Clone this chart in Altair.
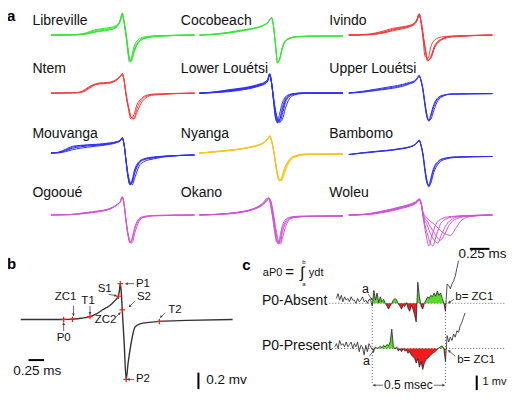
import math
import altair as alt
import pandas as pd

# ------------------------------------------------------------------ data
SITES = ["Libreville", "Cocobeach", "Ivindo",
         "Ntem", "Lower Louétsi", "Upper Louétsi",
         "Mouvanga", "Nyanga", "Bambomo",
         "Ogooué", "Okano", "Woleu"]

SITE_COLOR = {
    "Libreville": "#35e635", "Cocobeach": "#35e635",
    "Ivindo": "#f23c3c", "Ntem": "#f23c3c",
    "Lower Louétsi": "#2f2ff2", "Upper Louétsi": "#2f2ff2",
    "Mouvanga": "#2f2ff2", "Bambomo": "#2f2ff2",
    "Nyanga": "#f9c420",
    "Ogooué": "#cf52d9", "Okano": "#cf52d9", "Woleu": "#cf52d9",
}

# EOD traces: time (sample units) and amplitude (up positive)
LIBREVILLE_T = [0, 25, 35, 45, 55, 63, 68, 71, 73, 75, 77, 79, 80.5, 82, 85, 89, 95, 110, 147]
LIBREVILLE_V = [
    [0, 0.5, 2, 5.5, 7, 8.5, 11, 16, 23, 12, -2, -20, -28, -25, -12, -5, -2, -0.5, 0],
    [0, 0.5, 1.5, 4.5, 6, 7.5, 10, 15, 22, 12, -1, -18, -27, -26, -15, -7, -3, -1, 0],
    [0, 0.3, 1, 3.5, 5, 6.5, 9.5, 15, 22, 13, 0, -16, -26, -27, -17, -8, -3.5, -1, 0],
    [0, 0.2, 0.8, 3, 4.5, 6, 9, 14, 21, 13, 1, -14, -25, -27, -18, -9, -4, -1.2, 0],
]
COCOBEACH_T = [0, 15, 30, 45, 57, 65, 70, 74, 76, 78, 80, 82, 85, 90, 100, 120, 147]
COCOBEACH_V = [
    [0, 1, 3, 5.5, 7.5, 10, 13, 18, 8, -12, -29, -25, -12, -4, -1.5, -1, -1],
    [0, 0.5, 2, 4.5, 7, 9.5, 12.5, 17.5, 9, -10, -28, -26, -14, -5, -2, -1, -1],
    [0, 1, 2.5, 5, 7, 10, 13, 18, 8.5, -11, -28.5, -25, -13, -4.5, -1.5, -1, -1],
]
IVINDO_T = [0, 20, 35, 45, 55, 62, 67, 70, 72, 74, 76, 78, 81, 84, 88, 95, 105, 147]
IVINDO_V = [
    [0, 0.5, 3, 6, 8, 9.5, 12, 16, 22, 14, 0, -14, -27, -22, -11, -4, -1.5, 0],
    [0, 0.3, 2, 4.5, 6.5, 8.5, 11, 15, 21, 14, 1, -12, -26, -24, -13, -5, -2, 0],
    [0, 1, 4, 7, 8.5, 10, 12.5, 17, 22, 12, -4, -22, -24, -12, -5, -2, -1, 0],
    [0, 0.5, 2.5, 5, 7.5, 9, 11.5, 15.5, 21.5, 14, 0.5, -13, -26.5, -23, -12, -4.5, -1.5, 0],
]
NTEM_T = [0, 25, 32, 38, 44, 50, 58, 64, 68, 71, 73, 75, 77, 79, 82, 85, 88, 92, 97, 105, 147]
NTEM_V = [
    [0, 0.3, 1.5, 5, 8.5, 10, 10.5, 12, 14.5, 17, 20, 12, -3, -15, -27, -22, -12, -6, -2.5, -1, 0],
    [0, 0.3, 1, 4, 8, 9.5, 10, 11.5, 14, 17, 20.5, 13, -1, -12, -25, -26, -16, -8, -3.5, -1.5, 0],
    [0, 0.5, 2, 6, 9, 10.5, 11, 12.5, 15, 17.5, 19.5, 12, -2, -13, -24, -27, -20, -11, -5, -2, 0],
]
LOWER_LOUETSI_T = [0, 15, 30, 45, 55, 62, 67, 70, 72, 74, 76, 78, 80, 82, 85, 88, 92, 97, 105, 115, 147]
LOWER_LOUETSI_V = [
    [0, 1, 3, 5, 7, 9, 11, 14, 20, 10, -8, -25, -31, -22, -10, -4, -1.5, -0.5, 0, 0, 0],
    [0, 0.8, 2.5, 4.5, 6.5, 8.5, 10.5, 13.5, 19.5, 10, -7, -22, -30, -28, -15, -6, -2, -0.5, 0, 0, 0],
    [0, 0.6, 2, 4, 6, 8, 10, 13, 19, 10, -6, -20, -28, -30, -22, -10, -3.5, -1, 0, 0, 0],
    [0, 0.5, 1.5, 3.5, 5.5, 7.5, 9.5, 12.5, 18.5, 10, -5, -18, -26, -30, -27, -16, -6, -2, -0.5, 0, 0],
    [0, 1.2, 3.5, 5.5, 7.5, 9.5, 11.5, 14.5, 20, 9, -9, -26, -30, -28, -18, -8, -3, -1, 0, 0, 0],
]
UPPER_LOUETSI_T = [0, 15, 30, 45, 55, 62, 67, 70, 72, 74, 76, 78, 80, 82, 84, 87, 91, 97, 105, 147]
UPPER_LOUETSI_V = [
    [0, 1.5, 3.5, 6, 8, 10, 12, 15, 18, 13, 3, -12, -24, -29, -24, -14, -6, -2.5, -1, -0.5],
    [0, 1, 3, 5, 7, 9.5, 11.5, 14.5, 17.5, 13, 4, -10, -22, -28, -27, -18, -8, -3, -1, -0.5],
    [0, 2, 4.5, 7, 9, 11, 12.5, 15.5, 18.5, 12, 2, -13, -25, -28.5, -22, -12, -5, -2, -1, -0.5],
]
MOUVANGA_T = [0, 8, 15, 22, 30, 45, 60, 68, 71, 73, 75, 77, 79, 81, 83, 86, 90, 95, 105, 120, 147]
MOUVANGA_V = [
    [0, 1, 4, 7, 8, 9, 10.5, 12, 13.5, 16, 8, -10, -26, -33, -28, -16, -9, -6, -4, -3, -2],
    [0, 0.5, 2.5, 5, 6.5, 8, 9.5, 11.5, 13, 15.5, 8, -9, -24, -32, -31, -20, -11, -7, -5, -3, -2],
    [0, 0.3, 1.5, 3.5, 5, 7, 9, 11, 12.5, 15, 8, -8, -22, -30, -33, -25, -14, -9, -6, -3.5, -2],
    [0, 0.8, 3, 6, 7.5, 8.5, 10, 11.8, 13.2, 15.8, 8, -9.5, -25, -32.5, -30, -18, -10, -6.5, -4.5, -3, -2],
]
NYANGA_T = [0, 15, 30, 45, 55, 62, 67, 70, 72, 74, 76, 78, 80, 82, 84, 87, 91, 97, 110, 147]
NYANGA_V = [
    [0, 1.5, 3, 5, 7, 9, 12, 15, 18, 12, 2, -12, -24, -29, -26, -16, -8, -3, -1, -1],
    [0, 1.2, 2.6, 4.6, 6.6, 8.6, 11.5, 14.5, 17.5, 12, 3, -10, -22, -28, -28, -19, -10, -4, -1.5, -1],
    [0, 1.4, 2.8, 4.8, 6.8, 8.8, 11.8, 14.8, 17.8, 12.5, 2.5, -11, -23, -28.5, -27, -17, -9, -3.5, -1, -1],
    [0, 1, 2.5, 4.5, 6.5, 8.5, 11.2, 14.2, 17.2, 12, 3.5, -9, -21, -27, -28.5, -21, -11, -4.5, -1.5, -1],
]
BAMBOMO_T = [0, 15, 30, 45, 55, 62, 67, 70, 72, 74, 76, 78, 80, 82, 84, 87, 91, 97, 110, 147]
BAMBOMO_V = [
    [-1.5, 0, 1.5, 3, 4.5, 6, 8, 10.5, 13, 8, -2, -18, -30, -35, -28, -17, -10, -6, -4, -3.5],
    [-1.5, 0.3, 1.8, 3.3, 4.8, 6.3, 8.3, 11, 13.5, 8, -1, -16, -28, -34, -31, -20, -12, -7, -4.5, -3.5],
    [-1.5, 0.5, 2, 3.5, 5, 6.5, 8.5, 11, 13.5, 7.5, -3, -19, -31, -33, -26, -15, -9, -5.5, -4, -3.5],
]
OGOOUE_T = [0, 20, 35, 50, 58, 64, 68, 71, 73, 75, 77, 79, 81, 83, 86, 90, 95, 105, 147]
OGOOUE_V = [
    [0, 0.5, 2.5, 4.5, 6, 8.5, 11, 14, 19, 10, -8, -22, -29, -24, -12, -4, -1.5, -0.5, 0],
    [0, 0.3, 1.5, 3.5, 5.2, 7.8, 10.5, 13.5, 18.5, 10.5, -6, -19, -27, -29, -18, -7, -2.5, -1, 0],
    [0, 0.4, 2, 4, 5.6, 8.2, 10.8, 13.8, 18.8, 10, -7, -21, -28.5, -26, -14, -5, -2, -0.5, 0],
]
OKANO_T = [0, 15, 30, 45, 55, 62, 66, 69, 71, 73, 75, 77, 79, 81, 83, 85, 88, 92, 98, 110, 147]
OKANO_V = [
    [0, 0.5, 1.5, 3.5, 6, 9, 12, 15, 18, 14, 4, -10, -22, -29, -28, -18, -9, -4, -2, -1.5, -1],
    [0, 0.5, 1.5, 3.5, 6, 9.5, 12.5, 16, 17.5, 11, 0, -14, -26, -30, -24, -14, -7, -3, -2, -1.5, -1],
    [0, 0.3, 1.2, 3, 5.5, 8.5, 11.5, 14.5, 17, 15, 6, -6, -18, -27, -30, -24, -13, -5, -2.5, -1.5, -1],
    [0, 0.6, 1.8, 3.8, 6.5, 10, 13.5, 17, 17, 9, -3, -17, -28, -29, -20, -11, -5, -2.5, -1.5, -1, -1],
]
WOLEU_T = [
    [0, 15, 30, 45, 55, 62, 67, 70, 72, 74, 76, 79, 82, 85, 89, 95, 105, 125, 147],
    [0, 15, 30, 45, 55, 62, 67, 70, 72, 74, 76, 80, 86, 90, 94, 100, 110, 125, 147],
    [0, 15, 30, 45, 55, 62, 67, 70, 72, 74, 76, 80, 85, 91, 95, 100, 106, 115, 147],
    [0, 15, 30, 45, 55, 62, 67, 70, 72, 74, 76, 80, 86, 94, 98, 103, 110, 120, 147],
    [0, 15, 30, 45, 55, 62, 67, 70, 72, 74, 76, 80, 88, 96, 104, 110, 116, 125, 147],
]
WOLEU_V = [
    [0, 0.5, 2.5, 5.5, 8, 10, 12, 14, 16, 12, -2, -20, -32, -22, -10, -4, -1.5, -0.5, 0],
    [0, 0.4, 2, 5, 7.5, 9.5, 11.5, 13.5, 15.5, 12, 0, -18, -32, -20, -9, -4, -1.5, -0.5, 0],
    [0, 0.6, 2.8, 6, 8.5, 10.5, 12.5, 14.5, 16.5, 12.5, 1, -10, -22, -29, -20, -10, -4, -1.5, 0],
    [0, 0.3, 1.8, 4.5, 7, 9, 11, 13, 15, 12, 2, -6, -16, -26, -20, -10, -4, -1.5, 0],
    [0, 0.7, 3.2, 6.5, 9, 11, 13, 15, 17, 13, 3, -3, -10, -18, -21, -13, -5, -1.5, 0],
]

TRACES = {
    "Libreville": [(LIBREVILLE_T, v) for v in LIBREVILLE_V],
    "Cocobeach": [(COCOBEACH_T, v) for v in COCOBEACH_V],
    "Ivindo": [(IVINDO_T, v) for v in IVINDO_V],
    "Ntem": [(NTEM_T, v) for v in NTEM_V],
    "Lower Louétsi": [(LOWER_LOUETSI_T, v) for v in LOWER_LOUETSI_V],
    "Upper Louétsi": [(UPPER_LOUETSI_T, v) for v in UPPER_LOUETSI_V],
    "Mouvanga": [(MOUVANGA_T, v) for v in MOUVANGA_V],
    "Nyanga": [(NYANGA_T, v) for v in NYANGA_V],
    "Bambomo": [(BAMBOMO_T, v) for v in BAMBOMO_V],
    "Ogooué": [(OGOOUE_T, v) for v in OGOOUE_V],
    "Okano": [(OKANO_T, v) for v in OKANO_V],
    "Woleu": list(zip(WOLEU_T, WOLEU_V)),
}

# panel b: annotated EOD
B_T = [0, 20, 44, 53, 62, 71, 78, 84, 92, 97, 100, 101, 102, 103, 104, 106, 108,
       110, 113, 117, 122, 132, 142, 170, 217]
B_V = [0, 0, 0, 0.3, 1.2, 3, 6, 10, 15, 20, 24, 29, 37, 28, 10, -25, -62,
       -45, -25, -8, -4.5, -3, -2, -1, 0]
B_LANDMARKS = {"P0": 2, "ZC1": 3, "T1": 5, "S1": 10, "P1": 12, "ZC2": 14, "P2": 16, "T2": 22}

# panel c: noisy pre-EOD segments (amplitude per sample)
C_ABSENT = [5, 10, 3.3, 8.3, 1.7, 6.7, 3.3, 5, 1.7, 6.7, 3.3, 3.3, 0, 5, 1.7, 3.3, 6.7, 1.7, 3.3, 0,
            4, 3.3, -2.7, 13.3, 3.3, 10.7, 0.7, 6.7, 1.7, 4, 0, -2.7, -6, -2.7, 0, 3.3, 5, 3.3, -0.7,
            -2.7, -6, -1.7, -3.3, 0.7, -5, -8.3, -1.7, -6, -11.7, -19.3, 21.7, 6.7, -2.7, -6, 0, 3.3,
            6.7, 5, 8.3, 6.7, 10.7, 7.3, 12.7, 8.3, 10.7, 5, 0, -8.3, 20, 18.3, 15, 20, 23.3, 28, 36, 44]
C_PRESENT = [1.7, 5, 0, 8.3, 3.3, 5, 1.7, 6.7, 1.7, 4, 6.7, 0, 5, 1.7, 6.7, -3.3, 3.3, 1.7, -6.7,
             3.3, -3.3, 5, 1.7, -0.7, -1.7, 1.7, 0, 1, 2.3, 0.7, 3.3, 1.7, 4, 2.7, 6.7, 20, 1.7, -0.7,
             1.7, -2.7, -0.7, -3.3, 0, -2.7, -1.7, -5, -3.3, -6.7, -8.3, -10, -15, -10.7, -19.3,
             -13.3, -21.7, -15, -11.7, -10, -8.3, -6.7, -5, -4, -2.7, -0.7, 0.7, 1.7, 2.7, 0, -13.3,
             13.3, 6.7, 11.7, 8.3, 15, 11.7, 18.3, 16.7, 23.3, 26.7, 31.7, 36.7]

# ------------------------------------------------------------------ layout
COL_X0 = [46, 198, 351]
ROW_BASE = [31, 91, 153, 217]
LABEL_X = [27, 179, 331]
LABEL_Y = [16, 66, 133, 194]

B_X0, B_BASE = 15, 325
C_STEP = 5 / 3
C_ABS_X0, C_ABS_BASE = 338.33, 308.3
C_PRE_X0, C_PRE_BASE = 336.67, 355
C_A, C_B = 375, 450

# ------------------------------------------------------------------ frames
rows = []
for i, s in enumerate(SITES):
    r, c = divmod(i, 3)
    for j, (T, V) in enumerate(TRACES[s]):
        assert len(T) == len(V), (s, j, len(T), len(V))
        for t, v in zip(T, V):
            rows.append({"id": f"{s}-{j}", "x": COL_X0[c] + t, "y": ROW_BASE[r] - v,
                         "color": SITE_COLOR[s]})
df_a = pd.DataFrame(rows)

assert len(B_T) == len(B_V)
df_b = pd.DataFrame({"id": "b", "x": [B_X0 + t for t in B_T], "y": [B_BASE - v for v in B_V]})
df_bm = df_b.iloc[list(B_LANDMARKS.values())].copy()

crow = []
for name, vals, x0, base in [("abs", C_ABSENT, C_ABS_X0, C_ABS_BASE),
                             ("pre", C_PRESENT, C_PRE_X0, C_PRE_BASE)]:
    for i, v in enumerate(vals):
        crow.append({"id": name, "x": x0 + i * C_STEP, "y": base - v})
df_c = pd.DataFrame(crow)

frow = []
for name, vals, x0, base in [("abs", C_ABSENT, C_ABS_X0, C_ABS_BASE),
                             ("pre", C_PRESENT, C_PRE_X0, C_PRE_BASE)]:
    pts = [(x0 + i * C_STEP, v) for i, v in enumerate(vals)]
    full = []
    for (x1, v1), (x2, v2) in zip(pts, pts[1:]):
        full.append((x1, v1))
        if v1 * v2 < 0:
            full.append((x1 + (x2 - x1) * v1 / (v1 - v2), 0.0))
    full.append(pts[-1])
    sel = [(x, v) for x, v in full if C_A - 0.05 <= x <= C_B + 0.05]
    for x, v in sel:
        frow.append({"id": name + "g", "x": x, "y": base - max(v, 0), "y2": base, "fill": "#5ad82c"})
        frow.append({"id": name + "r", "x": x, "y": base - min(v, 0), "y2": base, "fill": "#ee1c1c"})
df_f = pd.DataFrame(frow)

# rules: dotted guides
df_dot = pd.DataFrame([
    {"x": 331, "y": C_ABS_BASE, "x2": 512, "y2": C_ABS_BASE},
    {"x": 334, "y": C_PRE_BASE, "x2": 512, "y2": C_PRE_BASE},
    {"x": C_A, "y": 309, "x2": C_A, "y2": 391},
    {"x": C_B, "y": 309, "x2": C_B, "y2": 391},
])
# scale bars
df_bar = pd.DataFrame([
    {"x": 475, "y": 252, "x2": 495, "y2": 252},
    {"x": 23, "y": 367, "x2": 39, "y2": 367},
    {"x": 197, "y": 380, "x2": 197, "y2": 397},
    {"x": 482, "y": 383, "x2": 482, "y2": 398},
])
# arrows (tail -> head)
ARROWS = [
    (131, 288, 122.5, 288), (131, 387, 124.5, 387), (105, 299, 113, 300.5),
    (132, 306, 126, 312), (112, 323, 117, 318), (69, 311, 69, 321),
    (86, 311, 86, 319.5), (59, 337, 59, 328.5), (163, 318, 158, 323),
    (371, 299, 375, 305), (372, 363, 377, 357), (459, 304, 453, 308),
    (460, 363, 453, 357), (386, 393, 376, 393), (438, 393, 449, 393),
]
arow, hrow = [], []
for x1, y1, x2, y2 in ARROWS:
    arow.append({"x": x1, "y": y1, "x2": x2, "y2": y2})
    dx, dy = x2 - x1, y2 - y1
    L = math.hypot(dx, dy)
    ang = math.degrees(math.atan2(dx, -dy)) % 360
    hrow.append({"x": x2 - 1.3 * dx / L, "y": y2 - 1.3 * dy / L, "ang": ang})
df_arr = pd.DataFrame(arow)
df_head = pd.DataFrame(hrow)

# texts
txt_left = [{"x": LABEL_X[i % 3], "y": LABEL_Y[i // 3], "text": s, "size": 14}
            for i, s in enumerate(SITES)]
txt_left += [
    {"x": 133, "y": 288, "text": "P1", "size": 11.5},
    {"x": 133, "y": 387, "text": "P2", "size": 11.5},
    {"x": 134, "y": 302, "text": "S2", "size": 11.5},
    {"x": 205, "y": 388, "text": "0.2 mv", "size": 13.5},
    {"x": 263, "y": 277, "text": "aP0", "size": 11},
    {"x": 286, "y": 276, "text": "=", "size": 15},
    {"x": 301, "y": 277, "text": "∫", "size": 16},
    {"x": 310, "y": 277, "text": "ydt", "size": 11},
    {"x": 262, "y": 306, "text": "P0-Absent", "size": 14},
    {"x": 262, "y": 352, "text": "P0-Present", "size": 14},
    {"x": 460, "y": 302, "text": "b= ZC1", "size": 11.5},
    {"x": 462, "y": 367, "text": "b= ZC1", "size": 11.5},
    {"x": 488, "y": 390, "text": "1 mv", "size": 11},
]
txt_center = [
    {"x": 488, "y": 257, "text": "0.25 ms", "size": 13.5},
    {"x": 101, "y": 294, "text": "S1", "size": 11.5},
    {"x": 102, "y": 326, "text": "ZC2", "size": 11.5},
    {"x": 61, "y": 302, "text": "ZC1", "size": 11.5},
    {"x": 84, "y": 306, "text": "T1", "size": 11.5},
    {"x": 59, "y": 344, "text": "P0", "size": 11.5},
    {"x": 173, "y": 315, "text": "T2", "size": 11.5},
    {"x": 32, "y": 378, "text": "0.25 ms", "size": 13.5},
    {"x": 305, "y": 266, "text": "b", "size": 6},
    {"x": 305, "y": 288, "text": "a", "size": 6},
    {"x": 368, "y": 293, "text": "a", "size": 12.5},
    {"x": 369, "y": 368, "text": "a", "size": 12.5},
    {"x": 412, "y": 393, "text": "0.5 msec", "size": 12},
]
txt_bold = [
    {"x": 1, "y": 11, "text": "a", "size": 15},
    {"x": 1, "y": 268, "text": "b", "size": 15},
    {"x": 242, "y": 269, "text": "c", "size": 15},
]

# ------------------------------------------------------------------ chart
X = alt.X("x:Q", scale=alt.Scale(domain=[2, 513], nice=False, zero=False), axis=None)
Y = alt.Y("y:Q", scale=alt.Scale(domain=[3, 400], nice=False, zero=False, reverse=True), axis=None)
FONT = "Liberation Sans"

lines_a = alt.Chart(df_a).mark_line(interpolate="monotone", strokeWidth=1).encode(
    x=X, y=Y, detail="id:N", color=alt.Color("color:N", scale=None))
line_b = alt.Chart(df_b).mark_line(interpolate="monotone", strokeWidth=1.4, color="#333333").encode(
    x=X, y=Y)
marks_b = alt.Chart(df_bm).mark_point(shape="M-1,0L1,0M0,-1L0,1", filled=False, size=30,
                                      strokeWidth=1.2, color="#ff1a1a", opacity=1).encode(x=X, y=Y)
fills_c = alt.Chart(df_f).mark_area(interpolate="linear").encode(
    x=X, y=Y, y2="y2:Q", detail="id:N", color=alt.Color("fill:N", scale=None))
lines_c = alt.Chart(df_c).mark_line(strokeWidth=0.8, color="#222222").encode(
    x=X, y=Y, detail="id:N")
dots = alt.Chart(df_dot).mark_rule(strokeDash=[1, 2], strokeWidth=0.9, color="#555555").encode(
    x=X, y=Y, x2="x2:Q", y2="y2:Q")
bars = alt.Chart(df_bar).mark_rule(strokeWidth=2, color="#000000").encode(
    x=X, y=Y, x2="x2:Q", y2="y2:Q")
arrows = alt.Chart(df_arr).mark_rule(strokeWidth=0.8, color="#444444").encode(
    x=X, y=Y, x2="x2:Q", y2="y2:Q")
heads = alt.Chart(df_head).mark_point(shape="triangle", filled=True, size=9, color="#444444",
                                      opacity=1).encode(
    x=X, y=Y, angle=alt.Angle("ang:Q", scale=None))
t_left = alt.Chart(pd.DataFrame(txt_left)).mark_text(
    align="left", baseline="middle", font=FONT, color="#111111").encode(
    x=X, y=Y, text="text:N", size=alt.Size("size:Q", scale=None))
t_center = alt.Chart(pd.DataFrame(txt_center)).mark_text(
    align="center", baseline="middle", font=FONT, color="#111111").encode(
    x=X, y=Y, text="text:N", size=alt.Size("size:Q", scale=None))
t_bold = alt.Chart(pd.DataFrame(txt_bold)).mark_text(
    align="left", baseline="middle", font=FONT, fontWeight="bold", color="#000000").encode(
    x=X, y=Y, text="text:N", size=alt.Size("size:Q", scale=None))

chart = alt.layer(
    lines_a, fills_c, dots, lines_c, line_b, marks_b, bars, arrows, heads,
    t_left, t_center, t_bold,
).properties(
    width=499, height=384, padding=0,
    autosize=alt.AutoSizeParams(type="none"),
    background="white",
).configure_view(stroke=None)

chart.save("out.html", embed_options={"renderer": "svg", "actions": False})
